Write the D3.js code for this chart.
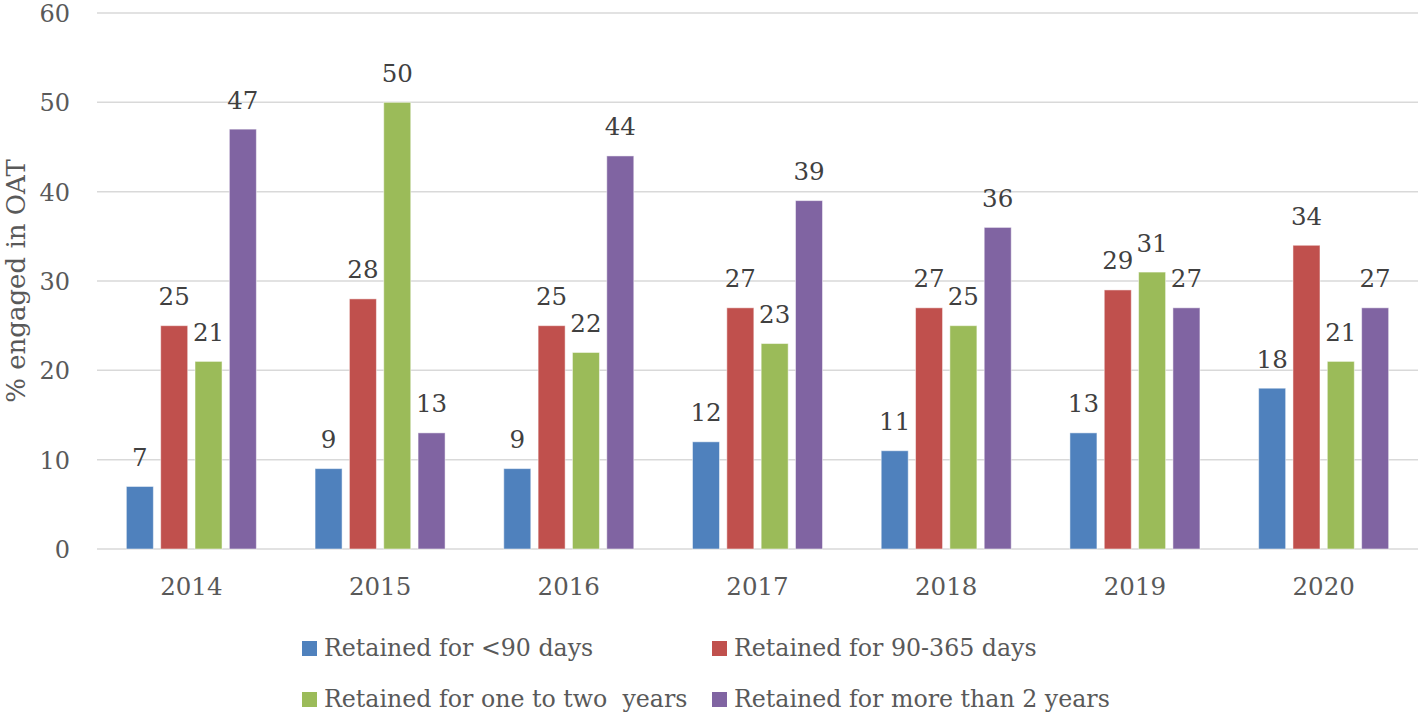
<!DOCTYPE html>
<html>
<head>
<meta charset="utf-8">
<script src="https://cdn.jsdelivr.net/npm/d3@7"></script>
<style>
  html, body { margin: 0; padding: 0; background: #fff; }
  svg { display: block; }
  text { font-family: "DejaVu Serif", serif; }
</style>
</head>
<body>
<svg id="chart" width="1424" height="716"></svg>
<script>
const years = ["2014", "2015", "2016", "2017", "2018", "2019", "2020"];
const seriesNames = [
  "Retained for <90 days",
  "Retained for 90-365 days",
  "Retained for one to two  years",
  "Retained for more than 2 years"
];
const lessThan90 = [7, 9, 9, 12, 11, 13, 18];
const days90to365 = [25, 28, 25, 27, 27, 29, 34];
const oneToTwoYears = [21, 50, 22, 23, 25, 31, 21];
const moreThan2Years = [47, 13, 44, 39, 36, 27, 27];
const yTicks = [0, 10, 20, 30, 40, 50, 60];
const colors = ["#4F81BD", "#C0504D", "#9BBB59", "#8064A2"];
const yTitle = "% engaged in OAT";

const seriesValues = [lessThan90, days90to365, oneToTwoYears, moreThan2Years];

(function () {
const svg = d3.select("#chart");
const mLeft = 97, mRight = 1418, mTop = 13, mBottom = 549;

const y = d3.scaleLinear().domain([0, 60]).range([mBottom, mTop]);
const x0 = d3.scaleBand().domain(years).range([mLeft, mRight]).paddingInner(0.311).paddingOuter(0.1555);
const x1 = d3.scaleBand().domain(d3.range(4)).range([0, x0.bandwidth()]).paddingInner(0.213).paddingOuter(0);

// gridlines
svg.append("g").selectAll("line").data(yTicks).join("line")
  .attr("x1", mLeft).attr("x2", mRight)
  .attr("y1", d => y(d)).attr("y2", d => y(d))
  .attr("stroke", "#d9d9d9").attr("stroke-width", 1.5);

// y tick labels
svg.append("g").selectAll("text").data(yTicks).join("text")
  .attr("x", 70).attr("y", d => y(d) + 9)
  .attr("text-anchor", "end")
  .attr("font-size", 24)
  .attr("fill", "#595959")
  .text(d => d);

// y title
svg.append("text")
  .attr("transform", `translate(25,${(mTop + mBottom) / 2}) rotate(-90)`)
  .attr("text-anchor", "middle")
  .attr("font-size", 26)
  .attr("fill", "#595959")
  .text(yTitle);

// bars
const groups = svg.append("g").selectAll("g").data(years).join("g")
  .attr("transform", d => `translate(${x0(d)},0)`);

groups.each(function(yr, yi) {
  const g = d3.select(this);
  const vals = seriesValues.map((s, si) => ({ si, v: s[yi] }));
  g.selectAll("rect").data(vals).join("rect")
    .attr("x", d => x1(d.si))
    .attr("y", d => y(d.v))
    .attr("width", x1.bandwidth())
    .attr("height", d => y(0) - y(d.v))
    .attr("fill", d => colors[d.si])
    .attr("stroke", "#ffffff").attr("stroke-opacity", 0.5).attr("stroke-width", 1);
  g.selectAll("text.lbl").data(vals).join("text")
    .attr("class", "lbl")
    .attr("x", d => x1(d.si) + x1.bandwidth() / 2)
    .attr("y", d => y(d.v) - 20.5)
    .attr("text-anchor", "middle")
    .attr("font-size", 24.5)
    .attr("fill", "#404040")
    .text(d => d.v);
});

// x labels
svg.append("g").selectAll("text").data(years).join("text")
  .attr("x", d => x0(d) + x0.bandwidth() / 2)
  .attr("y", 595)
  .attr("text-anchor", "middle")
  .attr("font-size", 24.5)
  .attr("fill", "#595959")
  .text(d => d);

// legend
const legendPos = [[302, 656], [712, 656], [302, 707], [712, 707]];
const legend = svg.append("g").selectAll("g").data(seriesNames).join("g")
  .attr("transform", (d, i) => `translate(${legendPos[i][0]},${legendPos[i][1]})`);
legend.append("rect")
  .attr("x", 0).attr("y", -15).attr("width", 15).attr("height", 15)
  .attr("fill", (d, i) => colors[i]);
legend.append("text")
  .attr("x", 22).attr("y", 0)
  .attr("font-size", 23.7)
  .attr("fill", "#595959")
  .style("white-space", "pre")
  .text(d => d);
})();
</script>
</body>
</html>
